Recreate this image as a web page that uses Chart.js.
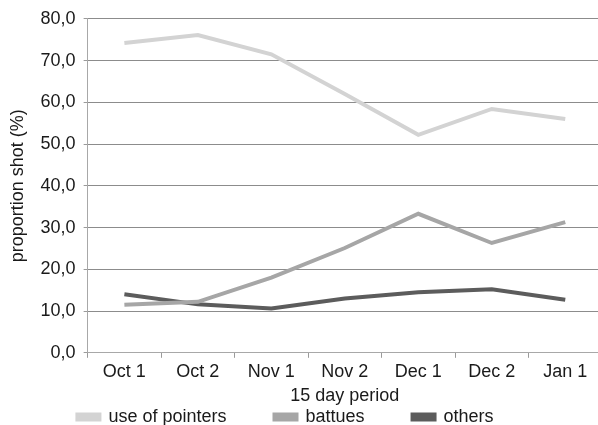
<!DOCTYPE html>
<html>
<head>
<meta charset="utf-8">
<script src="https://cdn.jsdelivr.net/npm/chart.js@4.4.1/dist/chart.umd.min.js"></script>
<style>
  html, body { margin: 0; padding: 0; background: #fff; overflow: hidden; }
  #wrap { width: 598px; height: 425px; overflow: hidden; }
</style>
</head>
<body>
<div id="wrap"><canvas id="shotChart" width="602" height="425"></canvas></div>
<script>
const periods = ['Oct 1', 'Oct 2', 'Nov 1', 'Nov 2', 'Dec 1', 'Dec 2', 'Jan 1'];
const pointers = [74.2, 76.1, 71.5, 62.0, 52.2, 58.4, 56.0];
const battues = [11.5, 12.2, 18.0, 25.1, 33.3, 26.3, 31.3];
const others = [14.0, 11.6, 10.6, 13.0, 14.5, 15.2, 12.7];

const ctx = document.getElementById('shotChart').getContext('2d');
Chart.defaults.font.family = '"Liberation Sans", Arial, sans-serif';
Chart.defaults.font.size = 18;
Chart.defaults.color = '#1a1a1a';

const line = (label, data, color) => ({
    label: label,
    data: data,
    borderColor: color,
    backgroundColor: color,
    borderWidth: 4,
    pointRadius: 0,
    tension: 0
});

// legend padding is used both between items and above/below the row;
// keep the wide gaps between items but give the row only a thin band
const tightLegend = {
    id: 'tightLegend',
    afterInit(chart) {
        const legend = chart.legend;
        const fit = legend.fit;
        legend.fit = function () {
            fit.call(this);
            this.height = 18;
        };
    },
    afterLayout(chart) {
        const legend = chart.legend;
        const pad = legend.options.labels.padding;
        legend.top -= pad - 1;   // bottom stays, so the clip box still covers the row
        legend.left -= 38;
    }
};

new Chart(ctx, {
    type: 'line',
    data: {
        labels: periods,
        datasets: [
            line('use of pointers', pointers, '#d3d3d3'),
            line('battues', battues, '#a6a6a6'),
            line('others', others, '#5c5c5c')
        ]
    },
    options: {
        responsive: false,
        animation: false,
        layout: { padding: { top: 18, right: 0, left: 7, bottom: 0 } },
        plugins: {
            legend: {
                position: 'bottom',
                labels: { boxWidth: 22, boxHeight: 5, padding: 48, font: { size: 18 } }
            },
            tooltip: { enabled: false }
        },
        scales: {
            x: {
                offset: true,
                grid: { offset: true, drawOnChartArea: false, tickLength: 5, tickColor: '#9a9a9a' },
                border: { color: '#a8a8a8' },
                ticks: { padding: 3 },
                title: { display: true, text: '15 day period', padding: { top: 0, bottom: 0 } }
            },
            y: {
                min: 0,
                max: 80,
                ticks: {
                    stepSize: 10,
                    padding: 8,
                    callback: v => v.toFixed(1).replace('.', ',')
                },
                grid: { color: '#8c8c8c', tickLength: 4, tickColor: '#9a9a9a' },
                border: { color: '#a8a8a8' },
                title: { display: true, text: 'proportion shot (%)', padding: { top: 0, bottom: 4 } }
            }
        }
    },
    plugins: [tightLegend]
});
</script>
</body>
</html>
